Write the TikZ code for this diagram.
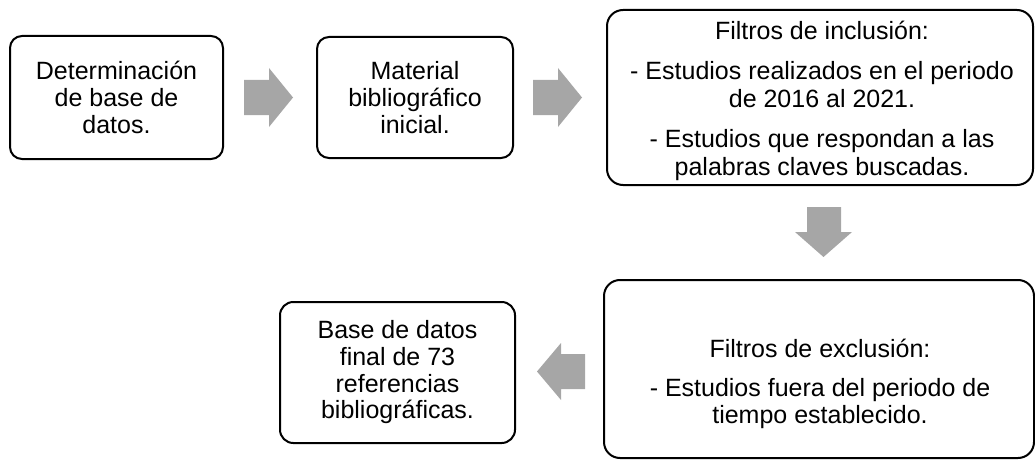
\documentclass[tikz,border=0pt]{standalone}
\usepackage{fontspec}
\setmainfont{Liberation Sans}
\begin{document}
\begin{tikzpicture}[x=0.75pt,y=-0.75pt,
  box/.style={draw=black, line width=1.5pt, rounded corners=#1, inner sep=0pt, fill=white},
  txt/.style={align=center, inner sep=0pt, font=\fontsize{18.75pt}{20pt}\selectfont},
  txtb/.style={align=center, inner sep=0pt, font=\fontsize{18.75pt}{21pt}\selectfont},
  blockarrow/.style={fill=black!35, draw=none}]
\useasboundingbox (0,0) rectangle (1035,460);
% boxes
\node[box=9pt, minimum width={213*0.75pt}, minimum height={123*0.75pt}] (b1) at (116.5,97.5) {};
\node[box=9pt, minimum width={196*0.75pt}, minimum height={121*0.75pt}] (b2) at (415,97.5) {};
\node[box=12pt, minimum width={426*0.75pt}, minimum height={175*0.75pt}] (b3) at (820,97.5) {};
\node[box=12pt, minimum width={430*0.75pt}, minimum height={178*0.75pt}] (b4) at (819,369) {};
\node[box=10pt, minimum width={235*0.75pt}, minimum height={141*0.75pt}] (b5) at (397.5,372.5) {};
% texts
\node[txt] (t1) at (b1.center) {Determinación\\de base de\\datos.};
\node[txt] (t2) at (b2.center) {Material\\bibliográfico\\inicial.};
\node[txtb] (t3) at (822,101) {Filtros de inclusión:\\[9pt]- Estudios realizados en el periodo\\de 2016 al 2021.\\[9pt]- Estudios que respondan a las\\palabras claves buscadas.};
\node[txt] (t4) at (820,384) {Filtros de exclusión:\\[9pt]- Estudios fuera del periodo de\\tiempo establecido.};
\node[txt] (t5) at (b5.center) {Base de datos\\final de 73\\referencias\\bibliográficas.};
% block arrows
\fill[blockarrow] (244,80) -- (269,80) -- (269,68) -- (293,97.5) -- (269,127) -- (269,115) -- (244,115) -- cycle;
\fill[blockarrow] (533,80) -- (558,80) -- (558,68) -- (582,97.5) -- (558,127) -- (558,115) -- (533,115) -- cycle;
\fill[blockarrow] (807,207) -- (841,207) -- (841,232) -- (852,232) -- (823.5,257) -- (795,232) -- (807,232) -- cycle;
\fill[blockarrow] (585,354) -- (561,354) -- (561,343) -- (537,371.5) -- (561,400) -- (561,389) -- (585,389) -- cycle;
\end{tikzpicture}
\end{document}
